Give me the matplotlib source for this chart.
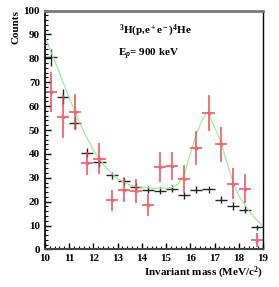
import matplotlib
matplotlib.use("Agg")
import matplotlib.pyplot as plt
from matplotlib.ticker import MultipleLocator

plt.rcParams["font.family"] = ["Liberation Serif", "DejaVu Serif"]
plt.rcParams["font.weight"] = "bold"
plt.rcParams["mathtext.fontset"] = "custom"
plt.rcParams["mathtext.rm"] = "Liberation Serif:bold"
plt.rcParams["mathtext.it"] = "Liberation Serif:italic:bold"
plt.rcParams["mathtext.bf"] = "Liberation Serif:bold"

# bin centres (0.5 MeV bins)
mass = [10.25, 10.75, 11.25, 11.75, 12.25, 12.75, 13.25, 13.75, 14.25,
        14.75, 15.25, 15.75, 16.25, 16.75, 17.25, 17.75, 18.25, 18.75]
bin_half = 0.25

# measured (red)
data_counts = [66, 55.5, 57.5, 36, 38, 20.5, 25, 24.5, 18.5,
               34.5, 35, 29.5, 42.5, 57, 44, 27.5, 25.5, 4]
data_err = [8.5, 9, 7.7, 5, 6.4, 4.5, 5.3, 5, 4.5,
            6.3, 6, 5.7, 7, 7.5, 7.4, 6.6, 6, 2.8]

# background (black)
bkg_counts = [80.5, 64, 53, 40.5, 36.5, 31, 28.5, 26.3, 25,
              24.6, 25.4, 22.6, 25, 25.2, 20.8, 18.2, 16.6, 9.2]
bkg_err = [3.5, 3, 2.5, 2, 2, 1.5, 1.5, 1.5, 1.5,
           1.5, 1.5, 1.5, 1.5, 1.5, 1.5, 1.5, 1.5, 1]

# fit curve (green)
fit_x = [10.0, 10.5, 11.0, 11.5, 12.0, 12.5, 13.0, 13.5, 14.0, 14.5, 15.0,
         15.25, 15.5, 15.75, 16.0, 16.25, 16.5, 16.72, 17.0, 17.25, 17.5,
         17.75, 18.0, 18.5, 19.0]
fit_y = [89, 76.5, 63.5, 51.5, 41.5, 34.5, 29.5, 27, 26, 25.6, 25.6,
         26, 27.5, 31.5, 40, 48.5, 54.5, 57.5, 51, 45.5, 36.5,
         28.5, 22.5, 15, 9.5]

fig = plt.figure(figsize=(2.79, 2.87), dpi=100)
ax = fig.add_axes([0.161, 0.131, 0.782, 0.832])

ax.errorbar(mass, bkg_counts, xerr=bin_half, yerr=bkg_err, fmt="none",
            ecolor="#222222", elinewidth=1.0, capsize=0)
ax.plot(fit_x, fit_y, color="#9aec9a", lw=0.9)
ax.errorbar(mass, data_counts, xerr=bin_half, yerr=data_err, fmt="s",
            color="#f03040", ecolor="#f04858", elinewidth=1.1, capsize=0,
            markersize=2, markerfacecolor="#ff9090", markeredgecolor="#f06070")

ax.set_xlim(10, 19)
ax.set_ylim(0, 100)
ax.xaxis.set_major_locator(MultipleLocator(1))
ax.xaxis.set_minor_locator(MultipleLocator(0.2))
ax.yaxis.set_major_locator(MultipleLocator(10))
ax.yaxis.set_minor_locator(MultipleLocator(2))
ax.tick_params(which="both", direction="in", top=False, right=False,
               labelsize=8)
ax.tick_params(which="major", length=4, width=1)
ax.tick_params(which="minor", length=2, width=0.8)
for lab in ax.get_xticklabels() + ax.get_yticklabels():
    lab.set_fontweight("bold")

ax.spines["top"].set_color("#777777")
ax.spines["top"].set_linewidth(2)
ax.spines["bottom"].set_color("#444444")
ax.spines["bottom"].set_linewidth(1.5)
ax.spines["left"].set_linewidth(1.2)
ax.spines["right"].set_linewidth(1.0)

ax.set_ylabel("Counts", fontsize=8, fontweight="bold", loc="top", labelpad=2)
ax.set_xlabel("Invariant mass (MeV/c$^2$)", fontsize=8, fontweight="bold",
              loc="right", labelpad=1)

ax.text(13.05, 91.5, "$^3$H(p,e$^+$e$^-$)$^4$He", fontsize=8, va="center")
ax.text(13.0, 81.5, "E$_p$= 900 keV", fontsize=8, va="center")

fig.savefig("out.png", dpi=100)
